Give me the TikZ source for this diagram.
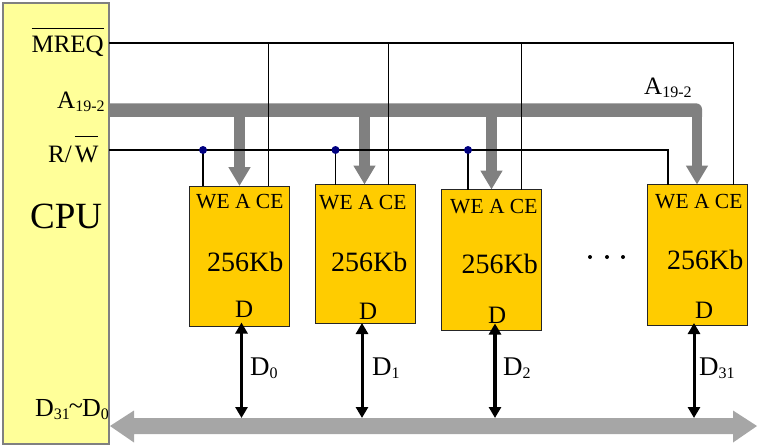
\documentclass[tikz,border=0pt]{standalone}
\usepackage{fontspec}
\setmainfont{Liberation Serif}
\usetikzlibrary{arrows.meta,calc}
\definecolor{cpuyellow}{HTML}{FFFF99}
\definecolor{memorange}{HTML}{FFCC00}
\definecolor{addrgray}{HTML}{808080}
\definecolor{datagray}{HTML}{A6A6A6}
\definecolor{dotblue}{HTML}{000080}
\newcommand{\fsize}[1]{\fontsize{#1}{#1}\selectfont}
\newcommand{\lowtxt}[1]{{\fsize{16}\raisebox{-3pt}{#1}}}
\tikzset{
	cpubox/.style={draw=gray,line width=1.5pt,fill=cpuyellow,anchor=north west,outer sep=0pt,minimum width=106pt,minimum height=441pt},
	membox/.style={draw=black!85,line width=1pt,fill=memorange,anchor=north west,outer sep=0pt,minimum width=100pt},
	txt/.style={inner sep=0pt,anchor=base west},
	sigline/.style={draw=black,line width=1.25pt},
	addrarrow/.style={draw=addrgray,line width=10.5pt,-{Triangle[length=19pt,width=21pt]}},
	dataarrow/.style={draw=black,{Triangle[length=11pt,width=12pt]}-{Triangle[length=11pt,width=12pt]}},
	dotnode/.style={circle,fill=dotblue,inner sep=0pt,minimum size=8pt},
}
\begin{document}
\begin{tikzpicture}[x=1pt,y=-1pt]
	\useasboundingbox (0,0) rectangle (759,447);
	% the cpu and its labels
	\node[cpubox] (cpu) at (3,3) {};
	\node[txt,anchor=base east,font=\fsize{25}] (mreqlabel) at (104,52) {$\overline{\mbox{\rule{0pt}{22pt}MREQ}}$};
	\node[txt,font=\fsize{25}] (addrlabel) at (57,108) {A\lowtxt{19-2}};
	\node[txt,font=\fsize{25}] (rwlabel) at (48,162) {R/\kern3pt$\overline{\mbox{\rule{0pt}{24pt}W}}$};
	\node[txt,font=\fsize{37}] (cpulabel) at (30,228) {CPU};
	\node[txt,font=\fsize{26}] (datalabel) at (35,416) {D\lowtxt{31}\kern-1pt\raisebox{2pt}{\char`~}\kern-1pt D\lowtxt{0}};
	% bus ends on the cpu side
	\coordinate (mreq) at (cpu.east |- 0,43);
	\coordinate (rw) at (cpu.east |- 0,150);
	% the address bus
	\fill[addrgray] (cpu.east |- 0,103.3) -- (696,103.3) arc[start angle=-90,end angle=0,radius=6] -- (702,116.8) -- (cpu.east |- 0,116.8) -- cycle;
	\node[txt,font=\fsize{25}] (addrlabeltwo) at (644,94) {A\lowtxt{19-2}};
	% the data bus
	\fill[datagray] (110,426) -- (134,410.5) -- (134,418) -- (733,418) -- (733,410.5) -- (757,426) -- (733,442.5) -- (733,434) -- (134,434) -- (134,442.5) -- cycle;
	\coordinate (busanchor) at (0,418);
	% the memory chips: name/x/y/height/we/addr/ce/data offsets, link top and width
	\foreach \m/\x/\y/\h/\we/\ad/\ce/\dd/\up/\lw in {m0/189.5/186/140/13.5/50/79/52/3.5/3,m1/315/184.5/138.5/20.5/49.5/73.5/47/0/3,m2/441.5/189.5/140.5/26.5/50/80/53.5/6.5/4,m3/647/184.5/140.5/21/50/86.5/47/2/3}{
		\node[membox,minimum height=\h pt] (\m) at (\x,\y) {};
		\coordinate (\m we) at ($(\m.north west)+(\we,0)$);
		\coordinate (\m ad) at ($(\m.north west)+(\ad,0)$);
		\coordinate (\m ce) at ($(\m.north west)+(\ce,0)$);
		\coordinate (\m dd) at ($(\m.south west)+(\dd,-\up)$);
		% address branch, chip enable and data link
		\draw[addrarrow] (\m ad |- 0,116) -- (\m ad);
		\draw[sigline] (\m ce) -- (\m ce |- mreq);
		\draw[dataarrow,line width=\lw pt] (\m dd) -- (\m dd |- busanchor);
	}
	% the control lines
	\draw[sigline] (mreq) -- (m3ce |- mreq);
	\draw[sigline] (rw) -| (m3we);
	\foreach \m in {m0,m1,m2}{
		\draw[sigline] (\m we) -- (\m we |- rw);
		\node[dotnode] (\m dot) at (\m we |- rw) {};
	}
	% text inside the chips
	\foreach \m/\xa/\ya/\xb/\yb/\xc/\yc in {m0/196/208/207/271/235/317,m1/319/209/331/271/359/319,m2/450/213/461.5/273/488/323,m3/655/208/667/269/695/318}{
		\node[txt,font=\fsize{21.5}] (\m pins) at (\xa,\ya) {WE A CE};
		\node[txt,font=\fsize{28}] (\m size) at (\xb,\yb) {256Kb};
		\node[txt,font=\fsize{25}] (\m data) at (\xc,\yc) {D};
	}
	% data line labels
	\foreach \n/\x/\s in {d0/250/0,d1/372/1,d2/503/2,d3/699/31}{
		\node[txt,font=\fsize{27}] (\n) at (\x,375.5) {D\lowtxt{\s}};
	}
	% the dots between the chips
	\foreach \n/\x in {gapa/590,gapb/607,gapc/623}{
		\node[circle,fill=black,inner sep=0pt,minimum size=4pt] (\n) at (\x,257) {};
	}
\end{tikzpicture}
\end{document}
